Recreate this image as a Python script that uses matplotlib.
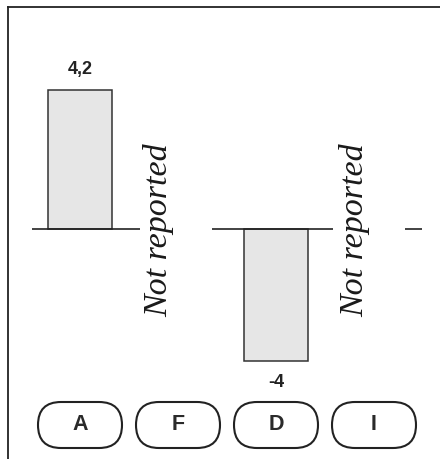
import matplotlib
matplotlib.use("Agg")
import matplotlib.pyplot as plt
from matplotlib.patches import FancyBboxPatch
from matplotlib.lines import Line2D
from matplotlib.transforms import ScaledTranslation

categories = ["A", "F", "D", "I"]
values = [4.2, None, -4.0, None]
value_labels = ["4,2", None, "-4", None]
missing_text = "Not reported"

W, H = 440, 459
fig = plt.figure(figsize=(W / 100, H / 100), dpi=100)
ax = fig.add_axes([0, 0, 1, 1])
ax.set_xlim(-80 / 98, (440 - 80) / 98)
ax.set_ylim(-(459 - 229) / 33, 229 / 33)
ax.axis("off")

x = list(range(len(categories)))
bar_w = 0.653

# baseline segments
for x0, x1 in [(-0.49, 0.61), (1.347, 2.58), (3.316, 3.49)]:
    ax.plot([x0, x1], [0, 0], color="#222222", lw=1.2, solid_capstyle="butt")

for xi, v, lab in zip(x, values, value_labels):
    if v is None:
        ax.text(xi - 0.2, -0.03, missing_text, rotation=90, ha="center", va="center",
                family="Liberation Serif", style="italic", fontsize=24.5, color="#1a1a1a")
    else:
        ax.bar(xi, v, width=bar_w, color="#e6e6e6", edgecolor="#333333", linewidth=1.1)
        off = 0.62 if v > 0 else -0.66
        ax.text(xi, v + off, lab, ha="center", va="center", family="Liberation Sans",
                fontsize=13, fontweight="bold", color="#222222")

# category pills (sized in inches, positioned in data coords)
pill_y = (229 - 425) / 33
pw, ph = 0.84, 0.46
for xi, c in zip(x, categories):
    tr = fig.dpi_scale_trans + ScaledTranslation(xi, pill_y, ax.transData)
    p = FancyBboxPatch((-pw / 2, -ph / 2), pw, ph,
                       boxstyle=f"round,pad=0,rounding_size={ph / 2}",
                       transform=tr, facecolor="white", edgecolor="#222222",
                       linewidth=1.5)
    ax.add_patch(p)
    ax.text(xi, pill_y, c, ha="center", va="center", family="Liberation Sans",
            fontweight="bold", fontsize=15.5, color="#2a2a2a")

# frame lines
fig.add_artist(Line2D([8 / W, 8 / W], [0, 1 - 7 / H], transform=fig.transFigure,
                      color="#222222", lw=1.3))
fig.add_artist(Line2D([8 / W, 1], [1 - 7 / H, 1 - 7 / H], transform=fig.transFigure,
                      color="#222222", lw=1.3))

fig.savefig("out.png", dpi=100)
